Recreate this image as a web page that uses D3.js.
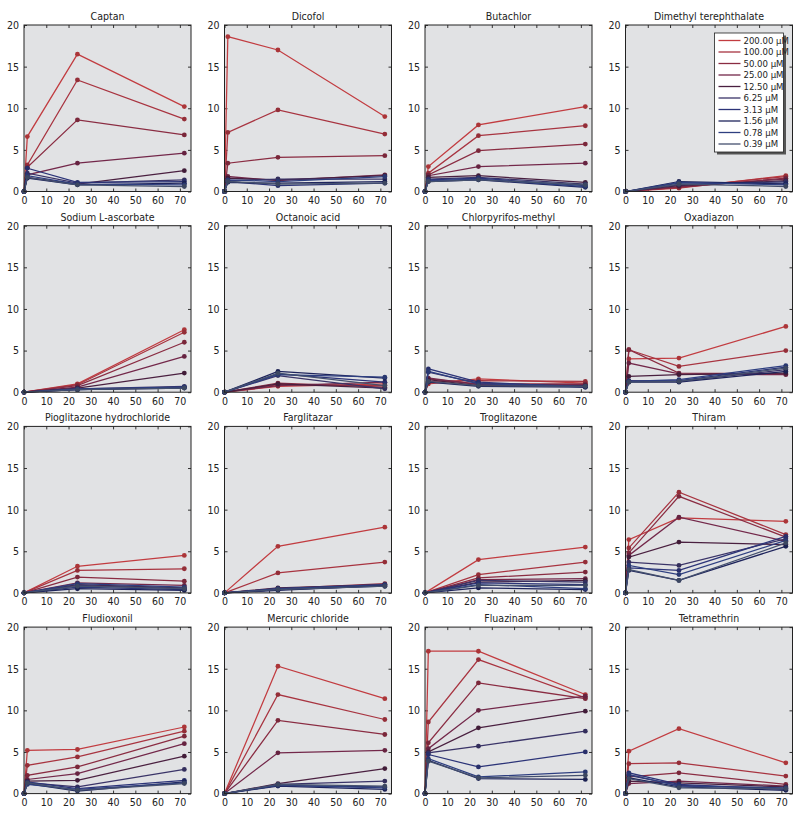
<!DOCTYPE html>
<html>
<head>
<meta charset="utf-8">
<script src="https://cdn.jsdelivr.net/npm/d3@7"></script>
<style>
  body { margin: 0; background: #fff; }
  svg text { font-family: "Liberation Sans Narrow", "DejaVu Sans Condensed", "Arial Narrow", sans-serif; fill: #222; }
</style>
</head>
<body>
<div id="chart"></div>
<script>
// time points (h); null value = no measurement at that time
var hours = [0, 1.5, 24, 72];
var concentrations = ['200.00 µM', '100.00 µM', '50.00 µM', '25.00 µM', '12.50 µM',
  '6.25 µM', '3.13 µM', '1.56 µM', '0.78 µM', '0.39 µM'];
var colors = ['#c23c40', '#a83440', '#8a2c42', '#73284a', '#4a2040',
  '#3a3468', '#2c3478', '#1e245c', '#2e3f80', '#44506e'];
var xTicks = [0, 10, 20, 30, 40, 50, 60, 70];
var yTicks = [0, 5, 10, 15, 20];

var compounds = ['Captan', 'Dicofol', 'Butachlor', 'Dimethyl terephthalate',
  'Sodium L-ascorbate', 'Octanoic acid', 'Chlorpyrifos-methyl', 'Oxadiazon',
  'Pioglitazone hydrochloride', 'Farglitazar', 'Troglitazone', 'Thiram',
  'Fludioxonil', 'Mercuric chloride', 'Fluazinam', 'Tetramethrin'];

var captan = [[0, 6.6, 16.5, 10.2], [0, 3.2, 13.4, 8.7], [0, 2.9, 8.6, 6.8], [0, 2.0, 3.4, 4.6], [0, 1.7, 0.9, 2.5],
  [0, 2.2, 1.0, 1.4], [0, 2.8, 1.1, 1.2], [0, 1.6, 0.8, 1.0], [0, 1.9, 0.9, 0.8], [0, 1.7, 0.8, 0.6]];
var dicofol = [[0, 18.6, 17.0, 9.0], [0, 7.1, 9.8, 6.9], [0, 3.4, 4.1, 4.3], [0, 1.8, 1.3, 2.0], [0, 1.6, 1.4, 1.9],
  [0, 1.3, 1.5, 1.5], [0, 1.2, 0.7, 1.0], [0, 1.1, 1.0, 1.2], [0, 1.4, 1.2, 1.8], [0, 1.2, 0.9, 1.0]];
var butachlor = [[0, 3.0, 8.0, 10.2], [0, 2.2, 6.7, 7.9], [0, 2.0, 4.9, 5.7], [0, 1.9, 3.0, 3.4], [0, 1.7, 1.9, 1.1],
  [0, 1.5, 1.7, 0.9], [0, 1.4, 1.6, 0.7], [0, 1.2, 1.4, 0.5], [0, 1.3, 1.5, 0.6], [0, 1.2, 1.4, 0.8]];
var dimethylTerephthalate = [[0, null, 0.4, 1.9], [0, null, 0.5, 1.8], [0, null, 0.5, 1.6], [0, null, 0.6, 1.5], [0, null, 0.7, 1.3],
  [0, null, 0.8, 1.2], [0, null, 1.0, 1.0], [0, null, 1.2, 0.9], [0, null, 1.1, 0.8], [0, null, 0.9, 0.6]];
var sodiumAscorbate = [[0, null, 1.0, 7.5], [0, null, 0.9, 7.2], [0, null, 0.8, 6.0], [0, null, 0.6, 4.3], [0, null, 0.5, 2.3],
  [0, null, 0.4, 0.7], [0, null, 0.3, 0.6], [0, null, 0.3, 0.5], [0, null, 0.4, 0.6], [0, null, 0.3, 0.5]];
var octanoicAcid = [[0, null, 0.7, 1.0], [0, null, 0.9, 0.8], [0, null, 1.1, 0.6], [0, null, 0.8, 1.2], [0, null, 1.0, 0.5],
  [0, null, 2.0, 0.4], [0, null, 2.2, 1.2], [0, null, 2.5, 1.7], [0, null, 2.1, 1.8], [0, null, 2.3, 0.8]];
var chlorpyrifosMethyl = [[0, 1.0, 1.6, 1.1], [0, 1.3, 1.4, 1.3], [0, 1.6, 1.0, 1.0], [0, 1.7, 0.9, 0.9], [0, 1.5, 0.8, 0.8],
  [0, 2.4, 1.1, 0.7], [0, 2.8, 1.2, 0.6], [0, 1.2, 0.7, 0.6], [0, 2.5, 1.0, 0.7], [0, 1.3, 0.8, 0.7]];
var oxadiazon = [[0, 4.0, 4.1, 7.9], [0, 5.1, 3.1, 5.0], [0, 5.1, 2.3, 2.2], [0, 3.5, 2.2, 2.1], [0, 1.9, 2.1, 2.3],
  [0, 1.4, 1.3, 2.7], [0, 1.3, 1.4, 3.0], [0, 1.2, 1.2, 2.5], [0, 1.3, 1.5, 3.2], [0, 1.2, 1.3, 2.9]];
var pioglitazone = [[0, null, 3.2, 4.5], [0, null, 2.7, 2.9], [0, null, 1.9, 1.4], [0, null, 1.2, 0.9], [0, null, 1.0, 0.6],
  [0, null, 0.9, 0.5], [0, null, 0.7, 0.4], [0, null, 0.5, 0.3], [0, null, 1.1, 0.7], [0, null, 0.8, 0.5]];
var farglitazar = [[0, null, 5.6, 7.9], [0, null, 2.4, 3.7], [0, null, 0.5, 1.1], [0, null, 0.4, 1.0], [0, null, 0.6, 1.0],
  [0, null, 0.5, 0.9], [0, null, 0.4, 0.8], [0, null, 0.3, 0.9], [0, null, 0.5, 1.0], [0, null, 0.4, 0.8]];
var troglitazone = [[0, null, 4.0, 5.5], [0, null, 2.2, 3.7], [0, null, 1.8, 2.5], [0, null, 1.6, 1.7], [0, null, 1.3, 1.5],
  [0, null, 1.5, 1.3], [0, null, 1.2, 1.0], [0, null, 0.6, 0.4], [0, null, 1.0, 0.5], [0, null, 0.9, 0.9]];
var thiram = [[0, 6.4, 9.0, 8.6], [0, 5.4, 12.1, 7.0], [0, 4.8, 11.6, 6.7], [0, 4.5, 9.1, 6.2], [0, 4.3, 6.1, 5.8],
  [0, 3.7, 3.3, 6.5], [0, 3.0, 2.7, 6.8], [0, 2.7, 1.5, 5.6], [0, 3.3, 2.2, 6.3], [0, 2.8, 1.5, 6.0]];
var fludioxonil = [[0, 5.2, 5.3, 8.0], [0, 3.4, 4.4, 7.5], [0, 2.2, 3.2, 6.9], [0, 1.7, 2.4, 6.0], [0, 1.5, 1.6, 4.5],
  [0, 1.3, 0.8, 2.9], [0, 1.4, 0.6, 1.6], [0, 1.2, 0.3, 1.4], [0, 1.1, 0.5, 1.3], [0, 1.3, 0.4, 1.2]];
var mercuricChloride = [[0, null, 15.3, 11.4], [0, null, 11.9, 8.9], [0, null, 8.8, 7.1], [0, null, 4.9, 5.2], [0, null, 1.2, 3.0],
  [0, null, 1.1, 1.5], [0, null, 1.0, 0.8], [0, null, 0.9, 0.5], [0, null, 1.0, 0.7], [0, null, 1.1, 0.9]];
var fluazinam = [[0, 17.1, 17.1, 11.9], [0, 8.6, 16.1, 11.5], [0, 6.1, 13.3, 11.4], [0, 5.4, 10.0, 11.7], [0, 5.0, 7.9, 9.9],
  [0, 4.9, 5.7, 7.5], [0, 4.7, 3.2, 5.0], [0, 4.0, 1.8, 1.7], [0, 4.2, 2.0, 2.6], [0, 3.9, 1.9, 2.2]];
var tetramethrin = [[0, 5.1, 7.8, 3.7], [0, 3.6, 3.7, 2.1], [0, 2.0, 2.5, 1.1], [0, 1.2, 1.5, 0.9], [0, 1.5, 1.3, 0.8],
  [0, 2.2, 1.0, 0.6], [0, 2.5, 1.1, 0.5], [0, 1.9, 0.8, 0.4], [0, 2.3, 0.9, 0.7], [0, 1.8, 0.7, 0.6]];

var panels = [captan, dicofol, butachlor, dimethylTerephthalate,
  sodiumAscorbate, octanoicAcid, chlorpyrifosMethyl, oxadiazon,
  pioglitazone, farglitazar, troglitazone, thiram,
  fludioxonil, mercuricChloride, fluazinam, tetramethrin];

var svgWidth = 800, svgHeight = 819;
var plotW = 167, plotH = 166.5;
var colStep = 200.5, rowStep = 200.7;
var left0 = 24, top0 = 25;

var svg = d3.select('#chart').append('svg')
  .attr('width', svgWidth)
  .attr('height', svgHeight);

var x = d3.scaleLinear().domain([0, 75]).range([0, plotW]);
var y = d3.scaleLinear().domain([0, 20]).range([plotH, 0]);

var line = d3.line()
  .x(function (d) { return x(d.t); })
  .y(function (d) { return y(d.v); });

panels.forEach(function (series, i) {
  var col = i % 4, row = Math.floor(i / 4);
  var g = svg.append('g')
    .attr('transform', 'translate(' + (left0 + col * colStep) + ',' + (top0 + row * rowStep) + ')');

  g.append('rect')
    .attr('width', plotW).attr('height', plotH)
    .attr('fill', '#e1e2e4');

  // axes, ticks pointing inwards on all four sides
  g.append('g').attr('transform', 'translate(0,' + plotH + ')')
    .call(d3.axisBottom(x).tickValues(xTicks).tickSize(-3).tickPadding(5));
  g.append('g')
    .call(d3.axisLeft(y).tickValues(yTicks).tickSize(-3).tickPadding(5));
  g.append('g')
    .call(d3.axisTop(x).tickValues(xTicks).tickSize(-3).tickFormat(''));
  g.append('g').attr('transform', 'translate(' + plotW + ',0)')
    .call(d3.axisRight(y).tickValues(yTicks).tickSize(-3).tickFormat(''));
  g.selectAll('.domain').remove();
  g.selectAll('.tick line').attr('stroke', '#333');
  g.selectAll('.tick text').attr('font-size', 10.5).attr('fill', '#222');

  series.forEach(function (vals, k) {
    var pts = vals.map(function (v, j) { return { t: hours[j], v: v }; })
      .filter(function (d) { return d.v != null; });
    g.append('path')
      .datum(pts)
      .attr('fill', 'none')
      .attr('stroke', colors[k])
      .attr('stroke-width', 1.25)
      .attr('d', line);
    g.selectAll('.pt-' + k)
      .data(pts)
      .enter()
      .append('circle')
      .attr('class', 'pt-' + k)
      .attr('cx', function (d) { return x(d.t); })
      .attr('cy', function (d) { return y(d.v); })
      .attr('r', 2.4)
      .attr('fill', d3.color(colors[k]).darker(0.35));
  });

  g.append('rect')
    .attr('width', plotW).attr('height', plotH)
    .attr('fill', 'none')
    .attr('stroke', '#222')
    .attr('stroke-width', 1);

  g.append('text')
    .attr('x', plotW / 2)
    .attr('y', -5)
    .attr('text-anchor', 'middle')
    .attr('font-size', 10.5)
    .text(compounds[i]);

  if (i === 3) createLegend(g);
});

function createLegend(g) {
  var lx = 89, ly = 8, lw = 69, lh = 119;
  g.append('rect')
    .attr('x', lx + 2.5).attr('y', ly + 2.5)
    .attr('width', lw).attr('height', lh)
    .attr('fill', '#555');
  g.append('rect')
    .attr('x', lx).attr('y', ly)
    .attr('width', lw).attr('height', lh)
    .attr('fill', '#fff')
    .attr('stroke', '#222')
    .attr('stroke-width', 0.8);
  concentrations.forEach(function (c, k) {
    var yy = ly + 7.5 + k * 11.5;
    g.append('line')
      .attr('x1', lx + 4).attr('x2', lx + 26)
      .attr('y1', yy).attr('y2', yy)
      .attr('stroke', colors[k])
      .attr('stroke-width', 1.3);
    g.append('text')
      .attr('x', lx + 29).attr('y', yy)
      .attr('dy', '0.35em')
      .attr('font-size', 9.5)
      .text(c);
  });
}
</script>
</body>
</html>
